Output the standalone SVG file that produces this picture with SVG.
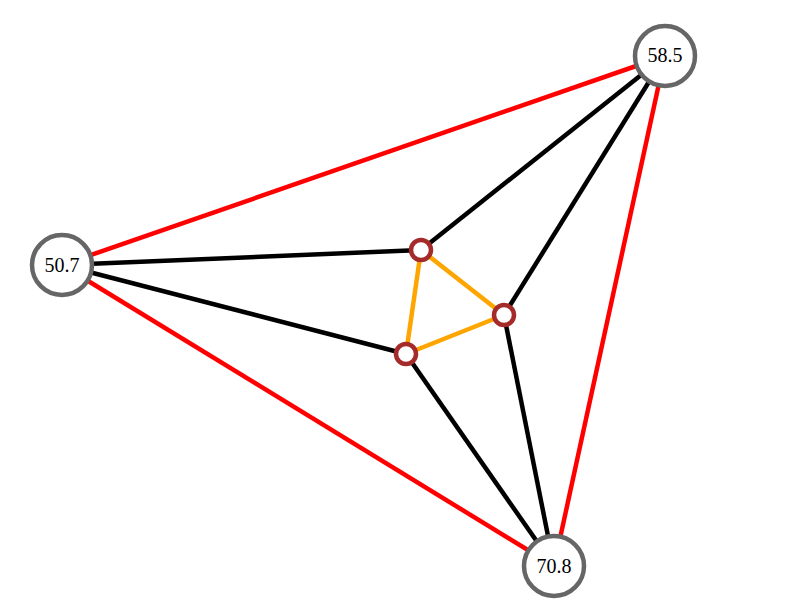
<svg xmlns="http://www.w3.org/2000/svg" width="800" height="600" viewBox="0 0 800 600">
<style>
.e{stroke-width:4.5;fill:none}
.r{stroke:#ff0000}
.k{stroke:#000000}
.o{stroke:#ffa500}
.big{fill:#ffffff;stroke:#666666;stroke-width:4.5}
.sm{fill:#ffffff;stroke:#a52a2a;stroke-width:4.5}
.lbl{font-family:"Liberation Serif","Times New Roman",serif;font-size:20px;text-anchor:middle;fill:#000}
</style>
<rect width="800" height="600" fill="#ffffff"/>
<g id="edges">
<line class="e r" x1="665" y1="56" x2="62" y2="265"/>
<line class="e r" x1="665" y1="56" x2="554" y2="566"/>
<line class="e r" x1="62" y1="265" x2="554" y2="566"/>
<line class="e k" x1="665" y1="56" x2="421" y2="250"/>
<line class="e k" x1="665" y1="56" x2="504" y2="315"/>
<line class="e k" x1="62" y1="265" x2="421" y2="250"/>
<line class="e k" x1="62" y1="265" x2="406" y2="354"/>
<line class="e k" x1="554" y1="566" x2="406" y2="354"/>
<line class="e k" x1="554" y1="566" x2="504" y2="315"/>
<line class="e o" x1="421" y1="250" x2="504" y2="315"/>
<line class="e o" x1="504" y1="315" x2="406" y2="354"/>
<line class="e o" x1="406" y1="354" x2="421" y2="250"/>
</g>
<g id="n585"><circle class="big" cx="665" cy="56" r="30"/><text class="lbl" x="665" y="62" font-family="Liberation Serif, serif">58.5</text></g>
<g id="n507"><circle class="big" cx="62" cy="265" r="30"/><text class="lbl" x="62" y="272" font-family="Liberation Serif, serif">50.7</text></g>
<g id="n708"><circle class="big" cx="554" cy="566" r="30"/><text class="lbl" x="554" y="573" font-family="Liberation Serif, serif">70.8</text></g>
<g id="s1"><circle class="sm" cx="421" cy="250" r="10"/></g>
<g id="s2"><circle class="sm" cx="504" cy="315" r="10"/></g>
<g id="s3"><circle class="sm" cx="406" cy="354" r="10"/></g>
</svg>
